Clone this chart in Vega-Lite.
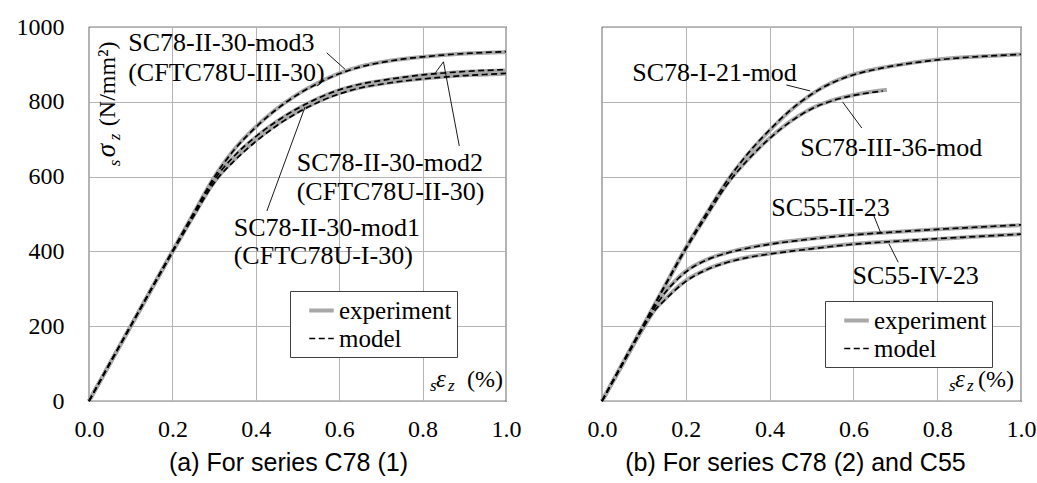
{
  "$schema": "https://vega.github.io/schema/vega-lite/v6.json",
  "padding": {"left": 15, "top": 14, "right": 0, "bottom": 0},
  "spacing": 64,
  "datasets": {
    "curves": [
      {"panel":"a","specimen":"mod3","type":"experiment","x":0,"y":0},
      {"panel":"a","specimen":"mod3","type":"experiment","x":0.05,"y":100},
      {"panel":"a","specimen":"mod3","type":"experiment","x":0.1,"y":200},
      {"panel":"a","specimen":"mod3","type":"experiment","x":0.15,"y":300},
      {"panel":"a","specimen":"mod3","type":"experiment","x":0.2,"y":400},
      {"panel":"a","specimen":"mod3","type":"experiment","x":0.25,"y":500},
      {"panel":"a","specimen":"mod3","type":"experiment","x":0.3,"y":598},
      {"panel":"a","specimen":"mod3","type":"experiment","x":0.35,"y":675},
      {"panel":"a","specimen":"mod3","type":"experiment","x":0.4,"y":733},
      {"panel":"a","specimen":"mod3","type":"experiment","x":0.45,"y":781},
      {"panel":"a","specimen":"mod3","type":"experiment","x":0.5,"y":820},
      {"panel":"a","specimen":"mod3","type":"experiment","x":0.55,"y":851},
      {"panel":"a","specimen":"mod3","type":"experiment","x":0.6,"y":876},
      {"panel":"a","specimen":"mod3","type":"experiment","x":0.65,"y":894},
      {"panel":"a","specimen":"mod3","type":"experiment","x":0.7,"y":906},
      {"panel":"a","specimen":"mod3","type":"experiment","x":0.75,"y":914},
      {"panel":"a","specimen":"mod3","type":"experiment","x":0.8,"y":920},
      {"panel":"a","specimen":"mod3","type":"experiment","x":0.85,"y":925},
      {"panel":"a","specimen":"mod3","type":"experiment","x":0.9,"y":929},
      {"panel":"a","specimen":"mod3","type":"experiment","x":0.95,"y":931},
      {"panel":"a","specimen":"mod3","type":"experiment","x":1.0,"y":933},
      {"panel":"a","specimen":"mod2","type":"experiment","x":0,"y":0},
      {"panel":"a","specimen":"mod2","type":"experiment","x":0.05,"y":100},
      {"panel":"a","specimen":"mod2","type":"experiment","x":0.1,"y":200},
      {"panel":"a","specimen":"mod2","type":"experiment","x":0.15,"y":300},
      {"panel":"a","specimen":"mod2","type":"experiment","x":0.2,"y":400},
      {"panel":"a","specimen":"mod2","type":"experiment","x":0.25,"y":497},
      {"panel":"a","specimen":"mod2","type":"experiment","x":0.3,"y":590},
      {"panel":"a","specimen":"mod2","type":"experiment","x":0.35,"y":655},
      {"panel":"a","specimen":"mod2","type":"experiment","x":0.4,"y":705},
      {"panel":"a","specimen":"mod2","type":"experiment","x":0.45,"y":747},
      {"panel":"a","specimen":"mod2","type":"experiment","x":0.5,"y":781},
      {"panel":"a","specimen":"mod2","type":"experiment","x":0.55,"y":809},
      {"panel":"a","specimen":"mod2","type":"experiment","x":0.6,"y":831},
      {"panel":"a","specimen":"mod2","type":"experiment","x":0.65,"y":846},
      {"panel":"a","specimen":"mod2","type":"experiment","x":0.7,"y":856},
      {"panel":"a","specimen":"mod2","type":"experiment","x":0.75,"y":864},
      {"panel":"a","specimen":"mod2","type":"experiment","x":0.8,"y":871},
      {"panel":"a","specimen":"mod2","type":"experiment","x":0.85,"y":876},
      {"panel":"a","specimen":"mod2","type":"experiment","x":0.9,"y":880},
      {"panel":"a","specimen":"mod2","type":"experiment","x":0.95,"y":882},
      {"panel":"a","specimen":"mod2","type":"experiment","x":1.0,"y":884},
      {"panel":"a","specimen":"mod1","type":"experiment","x":0,"y":0},
      {"panel":"a","specimen":"mod1","type":"experiment","x":0.05,"y":100},
      {"panel":"a","specimen":"mod1","type":"experiment","x":0.1,"y":200},
      {"panel":"a","specimen":"mod1","type":"experiment","x":0.15,"y":299},
      {"panel":"a","specimen":"mod1","type":"experiment","x":0.2,"y":398},
      {"panel":"a","specimen":"mod1","type":"experiment","x":0.25,"y":494},
      {"panel":"a","specimen":"mod1","type":"experiment","x":0.3,"y":585},
      {"panel":"a","specimen":"mod1","type":"experiment","x":0.35,"y":647},
      {"panel":"a","specimen":"mod1","type":"experiment","x":0.4,"y":697},
      {"panel":"a","specimen":"mod1","type":"experiment","x":0.45,"y":739},
      {"panel":"a","specimen":"mod1","type":"experiment","x":0.5,"y":773},
      {"panel":"a","specimen":"mod1","type":"experiment","x":0.55,"y":801},
      {"panel":"a","specimen":"mod1","type":"experiment","x":0.6,"y":823},
      {"panel":"a","specimen":"mod1","type":"experiment","x":0.65,"y":838},
      {"panel":"a","specimen":"mod1","type":"experiment","x":0.7,"y":848},
      {"panel":"a","specimen":"mod1","type":"experiment","x":0.75,"y":856},
      {"panel":"a","specimen":"mod1","type":"experiment","x":0.8,"y":862},
      {"panel":"a","specimen":"mod1","type":"experiment","x":0.85,"y":867},
      {"panel":"a","specimen":"mod1","type":"experiment","x":0.9,"y":871},
      {"panel":"a","specimen":"mod1","type":"experiment","x":0.95,"y":873},
      {"panel":"a","specimen":"mod1","type":"experiment","x":1.0,"y":875},
      {"panel":"a","specimen":"mod3","type":"model","x":0,"y":0},
      {"panel":"a","specimen":"mod3","type":"model","x":0.05,"y":101},
      {"panel":"a","specimen":"mod3","type":"model","x":0.1,"y":201},
      {"panel":"a","specimen":"mod3","type":"model","x":0.15,"y":301},
      {"panel":"a","specimen":"mod3","type":"model","x":0.2,"y":401},
      {"panel":"a","specimen":"mod3","type":"model","x":0.25,"y":501},
      {"panel":"a","specimen":"mod3","type":"model","x":0.3,"y":598},
      {"panel":"a","specimen":"mod3","type":"model","x":0.35,"y":674},
      {"panel":"a","specimen":"mod3","type":"model","x":0.4,"y":732},
      {"panel":"a","specimen":"mod3","type":"model","x":0.45,"y":780},
      {"panel":"a","specimen":"mod3","type":"model","x":0.5,"y":819},
      {"panel":"a","specimen":"mod3","type":"model","x":0.55,"y":850},
      {"panel":"a","specimen":"mod3","type":"model","x":0.6,"y":875},
      {"panel":"a","specimen":"mod3","type":"model","x":0.65,"y":893},
      {"panel":"a","specimen":"mod3","type":"model","x":0.7,"y":905},
      {"panel":"a","specimen":"mod3","type":"model","x":0.75,"y":914},
      {"panel":"a","specimen":"mod3","type":"model","x":0.8,"y":920},
      {"panel":"a","specimen":"mod3","type":"model","x":0.85,"y":925},
      {"panel":"a","specimen":"mod3","type":"model","x":0.9,"y":929},
      {"panel":"a","specimen":"mod3","type":"model","x":0.95,"y":932},
      {"panel":"a","specimen":"mod3","type":"model","x":1.0,"y":934},
      {"panel":"a","specimen":"mod2","type":"model","x":0,"y":0},
      {"panel":"a","specimen":"mod2","type":"model","x":0.05,"y":101},
      {"panel":"a","specimen":"mod2","type":"model","x":0.1,"y":201},
      {"panel":"a","specimen":"mod2","type":"model","x":0.15,"y":301},
      {"panel":"a","specimen":"mod2","type":"model","x":0.2,"y":400},
      {"panel":"a","specimen":"mod2","type":"model","x":0.25,"y":498},
      {"panel":"a","specimen":"mod2","type":"model","x":0.3,"y":591},
      {"panel":"a","specimen":"mod2","type":"model","x":0.35,"y":657},
      {"panel":"a","specimen":"mod2","type":"model","x":0.4,"y":707},
      {"panel":"a","specimen":"mod2","type":"model","x":0.45,"y":748},
      {"panel":"a","specimen":"mod2","type":"model","x":0.5,"y":782},
      {"panel":"a","specimen":"mod2","type":"model","x":0.55,"y":810},
      {"panel":"a","specimen":"mod2","type":"model","x":0.6,"y":832},
      {"panel":"a","specimen":"mod2","type":"model","x":0.65,"y":847},
      {"panel":"a","specimen":"mod2","type":"model","x":0.7,"y":857},
      {"panel":"a","specimen":"mod2","type":"model","x":0.75,"y":865},
      {"panel":"a","specimen":"mod2","type":"model","x":0.8,"y":872},
      {"panel":"a","specimen":"mod2","type":"model","x":0.85,"y":877},
      {"panel":"a","specimen":"mod2","type":"model","x":0.9,"y":881},
      {"panel":"a","specimen":"mod2","type":"model","x":0.95,"y":884},
      {"panel":"a","specimen":"mod2","type":"model","x":1.0,"y":886},
      {"panel":"a","specimen":"mod1","type":"model","x":0,"y":0},
      {"panel":"a","specimen":"mod1","type":"model","x":0.05,"y":100},
      {"panel":"a","specimen":"mod1","type":"model","x":0.1,"y":200},
      {"panel":"a","specimen":"mod1","type":"model","x":0.15,"y":299},
      {"panel":"a","specimen":"mod1","type":"model","x":0.2,"y":397},
      {"panel":"a","specimen":"mod1","type":"model","x":0.25,"y":492},
      {"panel":"a","specimen":"mod1","type":"model","x":0.3,"y":583},
      {"panel":"a","specimen":"mod1","type":"model","x":0.35,"y":644},
      {"panel":"a","specimen":"mod1","type":"model","x":0.4,"y":694},
      {"panel":"a","specimen":"mod1","type":"model","x":0.45,"y":736},
      {"panel":"a","specimen":"mod1","type":"model","x":0.5,"y":771},
      {"panel":"a","specimen":"mod1","type":"model","x":0.55,"y":799},
      {"panel":"a","specimen":"mod1","type":"model","x":0.6,"y":821},
      {"panel":"a","specimen":"mod1","type":"model","x":0.65,"y":837},
      {"panel":"a","specimen":"mod1","type":"model","x":0.7,"y":847},
      {"panel":"a","specimen":"mod1","type":"model","x":0.75,"y":855},
      {"panel":"a","specimen":"mod1","type":"model","x":0.8,"y":861},
      {"panel":"a","specimen":"mod1","type":"model","x":0.85,"y":866},
      {"panel":"a","specimen":"mod1","type":"model","x":0.9,"y":870},
      {"panel":"a","specimen":"mod1","type":"model","x":0.95,"y":873},
      {"panel":"a","specimen":"mod1","type":"model","x":1.0,"y":876},

      {"panel":"b","specimen":"I21","type":"experiment","x":0,"y":0},
      {"panel":"b","specimen":"I21","type":"experiment","x":0.05,"y":102},
      {"panel":"b","specimen":"I21","type":"experiment","x":0.1,"y":205},
      {"panel":"b","specimen":"I21","type":"experiment","x":0.15,"y":308},
      {"panel":"b","specimen":"I21","type":"experiment","x":0.2,"y":410},
      {"panel":"b","specimen":"I21","type":"experiment","x":0.25,"y":502},
      {"panel":"b","specimen":"I21","type":"experiment","x":0.3,"y":590},
      {"panel":"b","specimen":"I21","type":"experiment","x":0.35,"y":662},
      {"panel":"b","specimen":"I21","type":"experiment","x":0.4,"y":723},
      {"panel":"b","specimen":"I21","type":"experiment","x":0.45,"y":777},
      {"panel":"b","specimen":"I21","type":"experiment","x":0.5,"y":820},
      {"panel":"b","specimen":"I21","type":"experiment","x":0.55,"y":852},
      {"panel":"b","specimen":"I21","type":"experiment","x":0.6,"y":873},
      {"panel":"b","specimen":"I21","type":"experiment","x":0.65,"y":887},
      {"panel":"b","specimen":"I21","type":"experiment","x":0.7,"y":897},
      {"panel":"b","specimen":"I21","type":"experiment","x":0.75,"y":906},
      {"panel":"b","specimen":"I21","type":"experiment","x":0.8,"y":913},
      {"panel":"b","specimen":"I21","type":"experiment","x":0.85,"y":918},
      {"panel":"b","specimen":"I21","type":"experiment","x":0.9,"y":921},
      {"panel":"b","specimen":"I21","type":"experiment","x":0.95,"y":924},
      {"panel":"b","specimen":"I21","type":"experiment","x":1.0,"y":927},
      {"panel":"b","specimen":"III36","type":"experiment","x":0,"y":0},
      {"panel":"b","specimen":"III36","type":"experiment","x":0.05,"y":102},
      {"panel":"b","specimen":"III36","type":"experiment","x":0.1,"y":204},
      {"panel":"b","specimen":"III36","type":"experiment","x":0.15,"y":306},
      {"panel":"b","specimen":"III36","type":"experiment","x":0.2,"y":407},
      {"panel":"b","specimen":"III36","type":"experiment","x":0.25,"y":497},
      {"panel":"b","specimen":"III36","type":"experiment","x":0.3,"y":583},
      {"panel":"b","specimen":"III36","type":"experiment","x":0.35,"y":648},
      {"panel":"b","specimen":"III36","type":"experiment","x":0.4,"y":703},
      {"panel":"b","specimen":"III36","type":"experiment","x":0.45,"y":748},
      {"panel":"b","specimen":"III36","type":"experiment","x":0.5,"y":782},
      {"panel":"b","specimen":"III36","type":"experiment","x":0.55,"y":804},
      {"panel":"b","specimen":"III36","type":"experiment","x":0.6,"y":818},
      {"panel":"b","specimen":"III36","type":"experiment","x":0.65,"y":828},
      {"panel":"b","specimen":"III36","type":"experiment","x":0.68,"y":832},
      {"panel":"b","specimen":"II23","type":"experiment","x":0,"y":0},
      {"panel":"b","specimen":"II23","type":"experiment","x":0.05,"y":100},
      {"panel":"b","specimen":"II23","type":"experiment","x":0.1,"y":200},
      {"panel":"b","specimen":"II23","type":"experiment","x":0.125,"y":248},
      {"panel":"b","specimen":"II23","type":"experiment","x":0.15,"y":290},
      {"panel":"b","specimen":"II23","type":"experiment","x":0.175,"y":322},
      {"panel":"b","specimen":"II23","type":"experiment","x":0.2,"y":347},
      {"panel":"b","specimen":"II23","type":"experiment","x":0.25,"y":378},
      {"panel":"b","specimen":"II23","type":"experiment","x":0.3,"y":397},
      {"panel":"b","specimen":"II23","type":"experiment","x":0.35,"y":410},
      {"panel":"b","specimen":"II23","type":"experiment","x":0.4,"y":420},
      {"panel":"b","specimen":"II23","type":"experiment","x":0.5,"y":434},
      {"panel":"b","specimen":"II23","type":"experiment","x":0.6,"y":445},
      {"panel":"b","specimen":"II23","type":"experiment","x":0.7,"y":452},
      {"panel":"b","specimen":"II23","type":"experiment","x":0.8,"y":459},
      {"panel":"b","specimen":"II23","type":"experiment","x":0.9,"y":465},
      {"panel":"b","specimen":"II23","type":"experiment","x":1.0,"y":470},
      {"panel":"b","specimen":"IV23","type":"experiment","x":0,"y":0},
      {"panel":"b","specimen":"IV23","type":"experiment","x":0.05,"y":100},
      {"panel":"b","specimen":"IV23","type":"experiment","x":0.1,"y":198},
      {"panel":"b","specimen":"IV23","type":"experiment","x":0.125,"y":242},
      {"panel":"b","specimen":"IV23","type":"experiment","x":0.15,"y":272},
      {"panel":"b","specimen":"IV23","type":"experiment","x":0.175,"y":299},
      {"panel":"b","specimen":"IV23","type":"experiment","x":0.2,"y":322},
      {"panel":"b","specimen":"IV23","type":"experiment","x":0.25,"y":352},
      {"panel":"b","specimen":"IV23","type":"experiment","x":0.3,"y":372},
      {"panel":"b","specimen":"IV23","type":"experiment","x":0.35,"y":385},
      {"panel":"b","specimen":"IV23","type":"experiment","x":0.4,"y":394},
      {"panel":"b","specimen":"IV23","type":"experiment","x":0.5,"y":408},
      {"panel":"b","specimen":"IV23","type":"experiment","x":0.6,"y":420},
      {"panel":"b","specimen":"IV23","type":"experiment","x":0.7,"y":427},
      {"panel":"b","specimen":"IV23","type":"experiment","x":0.8,"y":433},
      {"panel":"b","specimen":"IV23","type":"experiment","x":0.9,"y":440},
      {"panel":"b","specimen":"IV23","type":"experiment","x":1.0,"y":446},
      {"panel":"b","specimen":"I21","type":"model","x":0,"y":0},
      {"panel":"b","specimen":"I21","type":"model","x":0.05,"y":103},
      {"panel":"b","specimen":"I21","type":"model","x":0.1,"y":206},
      {"panel":"b","specimen":"I21","type":"model","x":0.15,"y":309},
      {"panel":"b","specimen":"I21","type":"model","x":0.2,"y":410},
      {"panel":"b","specimen":"I21","type":"model","x":0.25,"y":503},
      {"panel":"b","specimen":"I21","type":"model","x":0.3,"y":591},
      {"panel":"b","specimen":"I21","type":"model","x":0.35,"y":664},
      {"panel":"b","specimen":"I21","type":"model","x":0.4,"y":725},
      {"panel":"b","specimen":"I21","type":"model","x":0.45,"y":778},
      {"panel":"b","specimen":"I21","type":"model","x":0.5,"y":820},
      {"panel":"b","specimen":"I21","type":"model","x":0.55,"y":851},
      {"panel":"b","specimen":"I21","type":"model","x":0.6,"y":872},
      {"panel":"b","specimen":"I21","type":"model","x":0.65,"y":886},
      {"panel":"b","specimen":"I21","type":"model","x":0.7,"y":897},
      {"panel":"b","specimen":"I21","type":"model","x":0.75,"y":905},
      {"panel":"b","specimen":"I21","type":"model","x":0.8,"y":912},
      {"panel":"b","specimen":"I21","type":"model","x":0.85,"y":917},
      {"panel":"b","specimen":"I21","type":"model","x":0.9,"y":921},
      {"panel":"b","specimen":"I21","type":"model","x":0.95,"y":924},
      {"panel":"b","specimen":"I21","type":"model","x":1.0,"y":927},
      {"panel":"b","specimen":"III36","type":"model","x":0,"y":0},
      {"panel":"b","specimen":"III36","type":"model","x":0.05,"y":103},
      {"panel":"b","specimen":"III36","type":"model","x":0.1,"y":205},
      {"panel":"b","specimen":"III36","type":"model","x":0.15,"y":307},
      {"panel":"b","specimen":"III36","type":"model","x":0.2,"y":406},
      {"panel":"b","specimen":"III36","type":"model","x":0.25,"y":496},
      {"panel":"b","specimen":"III36","type":"model","x":0.3,"y":581},
      {"panel":"b","specimen":"III36","type":"model","x":0.35,"y":647},
      {"panel":"b","specimen":"III36","type":"model","x":0.4,"y":702},
      {"panel":"b","specimen":"III36","type":"model","x":0.45,"y":747},
      {"panel":"b","specimen":"III36","type":"model","x":0.5,"y":781},
      {"panel":"b","specimen":"III36","type":"model","x":0.55,"y":803},
      {"panel":"b","specimen":"III36","type":"model","x":0.6,"y":817},
      {"panel":"b","specimen":"III36","type":"model","x":0.65,"y":826},
      {"panel":"b","specimen":"III36","type":"model","x":0.67,"y":829},
      {"panel":"b","specimen":"II23","type":"model","x":0,"y":0},
      {"panel":"b","specimen":"II23","type":"model","x":0.05,"y":101},
      {"panel":"b","specimen":"II23","type":"model","x":0.1,"y":201},
      {"panel":"b","specimen":"II23","type":"model","x":0.125,"y":249},
      {"panel":"b","specimen":"II23","type":"model","x":0.15,"y":289},
      {"panel":"b","specimen":"II23","type":"model","x":0.175,"y":320},
      {"panel":"b","specimen":"II23","type":"model","x":0.2,"y":345},
      {"panel":"b","specimen":"II23","type":"model","x":0.25,"y":377},
      {"panel":"b","specimen":"II23","type":"model","x":0.3,"y":396},
      {"panel":"b","specimen":"II23","type":"model","x":0.35,"y":409},
      {"panel":"b","specimen":"II23","type":"model","x":0.4,"y":419},
      {"panel":"b","specimen":"II23","type":"model","x":0.5,"y":433},
      {"panel":"b","specimen":"II23","type":"model","x":0.6,"y":444},
      {"panel":"b","specimen":"II23","type":"model","x":0.7,"y":452},
      {"panel":"b","specimen":"II23","type":"model","x":0.8,"y":459},
      {"panel":"b","specimen":"II23","type":"model","x":0.9,"y":465},
      {"panel":"b","specimen":"II23","type":"model","x":1.0,"y":471},
      {"panel":"b","specimen":"IV23","type":"model","x":0,"y":0},
      {"panel":"b","specimen":"IV23","type":"model","x":0.05,"y":101},
      {"panel":"b","specimen":"IV23","type":"model","x":0.1,"y":199},
      {"panel":"b","specimen":"IV23","type":"model","x":0.125,"y":241},
      {"panel":"b","specimen":"IV23","type":"model","x":0.15,"y":270},
      {"panel":"b","specimen":"IV23","type":"model","x":0.175,"y":297},
      {"panel":"b","specimen":"IV23","type":"model","x":0.2,"y":320},
      {"panel":"b","specimen":"IV23","type":"model","x":0.25,"y":351},
      {"panel":"b","specimen":"IV23","type":"model","x":0.3,"y":371},
      {"panel":"b","specimen":"IV23","type":"model","x":0.35,"y":384},
      {"panel":"b","specimen":"IV23","type":"model","x":0.4,"y":393},
      {"panel":"b","specimen":"IV23","type":"model","x":0.5,"y":407},
      {"panel":"b","specimen":"IV23","type":"model","x":0.6,"y":419},
      {"panel":"b","specimen":"IV23","type":"model","x":0.7,"y":427},
      {"panel":"b","specimen":"IV23","type":"model","x":0.8,"y":434},
      {"panel":"b","specimen":"IV23","type":"model","x":0.9,"y":440},
      {"panel":"b","specimen":"IV23","type":"model","x":1.0,"y":446}
    ],
    "labels": [
      {"panel":"a","text":"SC78-II-30-mod3","x":0.094,"y":957},
      {"panel":"a","text":"(CFTC78U-III-30)","x":0.094,"y":877},
      {"panel":"a","text":"SC78-II-30-mod2","x":0.498,"y":637},
      {"panel":"a","text":"(CFTC78U-II-30)","x":0.498,"y":560},
      {"panel":"a","text":"SC78-II-30-mod1","x":0.347,"y":463},
      {"panel":"a","text":"(CFTC78U-I-30)","x":0.347,"y":388},
      {"panel":"b","text":"SC78-I-21-mod","x":0.072,"y":876},
      {"panel":"b","text":"SC78-III-36-mod","x":0.473,"y":676},
      {"panel":"b","text":"SC55-II-23","x":0.404,"y":517},
      {"panel":"b","text":"SC55-IV-23","x":0.598,"y":335}
    ],
    "leaders": [
      {"panel":"a","id":"a1","order":1,"x":0.570,"y":931},
      {"panel":"a","id":"a1","order":2,"x":0.614,"y":887},
      {"panel":"a","id":"a2","order":1,"x":0.831,"y":878},
      {"panel":"a","id":"a2","order":2,"x":0.850,"y":907},
      {"panel":"a","id":"a2","order":3,"x":0.888,"y":682},
      {"panel":"a","id":"a3","order":1,"x":0.4265,"y":508},
      {"panel":"a","id":"a3","order":2,"x":0.518,"y":786},
      {"panel":"b","id":"b1","order":1,"x":0.440,"y":845},
      {"panel":"b","id":"b1","order":2,"x":0.497,"y":829},
      {"panel":"b","id":"b2","order":1,"x":0.574,"y":800},
      {"panel":"b","id":"b2","order":2,"x":0.620,"y":730},
      {"panel":"b","id":"b3","order":1,"x":0.649,"y":495},
      {"panel":"b","id":"b3","order":2,"x":0.665,"y":450},
      {"panel":"b","id":"b4","order":1,"x":0.685,"y":420},
      {"panel":"b","id":"b4","order":2,"x":0.707,"y":371}
    ],
    "axislabels": [
      {"panel":"a","role":"ytitle","x":0.063,"y":628},
      {"panel":"a","role":"xtitle","x":0.818,"y":37},
      {"panel":"b","role":"xtitle","x":0.828,"y":37}
    ]
  },
  "hconcat": [
    {
      "width": 417,
      "height": 374,
      "encoding": {
        "x": {"field":"x","type":"quantitative","scale":{"domain":[0,1],"nice":false,"zero":false},
              "axis":{"values":[0,0.2,0.4,0.6,0.8,1],"format":".1f","labelFlush":false,"labelPadding":16,"title":"(a) For series C78 (1)","titleX":199,"titleY":69,"titleBaseline":"alphabetic","titleAlign":"center","titleAnchor":null}},
        "y": {"field":"y","type":"quantitative","scale":{"domain":[0,1000],"nice":false},
              "axis":{"values":[0,200,400,600,800,1000],"format":"d","labelFlush":false,"labelPadding":25,"title":null}}
      },
      "layer": [
        {
          "data": {"name":"curves"},
          "transform": [{"filter":"datum.panel == 'a' && datum.type == 'experiment'"}],
          "mark": {"type":"line","interpolate":"monotone","strokeCap":"butt","strokeJoin":"round"},
          "encoding": {
            "detail": {"field":"specimen"},
            "color": {"field":"type","type":"nominal","scale":{"domain":["experiment","model"],"range":["#a8a8a8","#000000"]},"legend":{"title":null,"orient":"none","legendX":201,"legendY":264}},
            "strokeDash": {"field":"type","type":"nominal","scale":{"domain":["experiment","model"],"range":[[1,0],[6,3.5]]},"legend":{"title":null,"orient":"none","legendX":201,"legendY":264}},
            "strokeWidth": {"field":"type","type":"nominal","scale":{"domain":["experiment","model"],"range":[4,1.7]},"legend":{"title":null,"orient":"none","legendX":201,"legendY":264}}
          }
        },
        {
          "data": {"name":"curves"},
          "transform": [{"filter":"datum.panel == 'a' && datum.type == 'model'"}],
          "mark": {"type":"line","interpolate":"monotone","strokeCap":"butt","strokeJoin":"round"},
          "encoding": {
            "detail": {"field":"specimen"},
            "color": {"field":"type","type":"nominal","scale":{"domain":["experiment","model"],"range":["#a8a8a8","#000000"]},"legend":{"title":null,"orient":"none","legendX":201,"legendY":264}},
            "strokeDash": {"field":"type","type":"nominal","scale":{"domain":["experiment","model"],"range":[[1,0],[6,3.5]]},"legend":{"title":null,"orient":"none","legendX":201,"legendY":264}},
            "strokeWidth": {"field":"type","type":"nominal","scale":{"domain":["experiment","model"],"range":[4,1.7]},"legend":{"title":null,"orient":"none","legendX":201,"legendY":264}}
          }
        },
        {
          "data": {"name":"leaders"},
          "transform": [{"filter":"datum.panel == 'a'"}],
          "mark": {"type":"line","color":"#000","strokeWidth":0.9},
          "encoding": {"detail":{"field":"id"},"order":{"field":"order","type":"quantitative"}}
        },
        {
          "data": {"name":"labels"},
          "transform": [{"filter":"datum.panel == 'a'"}],
          "mark": {"type":"text","align":"left","baseline":"middle","font":"Liberation Serif","fontSize":26,"color":"#000"},
          "encoding": {"text":{"field":"text"}}
        },
        {
          "data": {"name":"axislabels"},
          "transform": [{"filter":"datum.panel == 'a' && datum.role == 'ytitle'"}],
          "mark": {"type":"text","text":"s","angle":270,"align":"left","baseline":"alphabetic","font":"Liberation Serif","fontStyle":"italic","fontSize":17,"dx":0,"dy":5,"color":"#000"}
        },
        {
          "data": {"name":"axislabels"},
          "transform": [{"filter":"datum.panel == 'a' && datum.role == 'ytitle'"}],
          "mark": {"type":"text","text":"σ","angle":270,"align":"left","baseline":"alphabetic","font":"Liberation Serif","fontStyle":"italic","fontSize":27,"dx":9,"dy":0,"color":"#000"}
        },
        {
          "data": {"name":"axislabels"},
          "transform": [{"filter":"datum.panel == 'a' && datum.role == 'ytitle'"}],
          "mark": {"type":"text","text":"z","angle":270,"align":"left","baseline":"alphabetic","font":"Liberation Serif","fontStyle":"italic","fontSize":17,"dx":26,"dy":5,"color":"#000"}
        },
        {
          "data": {"name":"axislabels"},
          "transform": [{"filter":"datum.panel == 'a' && datum.role == 'ytitle'"}],
          "mark": {"type":"text","text":"(N/mm²)","angle":270,"align":"left","baseline":"alphabetic","font":"Liberation Serif","fontSize":24,"dx":40,"dy":0,"color":"#000"}
        },
        {
          "data": {"name":"axislabels"},
          "transform": [{"filter":"datum.panel == 'a' && datum.role == 'xtitle'"}],
          "mark": {"type":"text","text":"s","align":"left","baseline":"alphabetic","font":"Liberation Serif","fontStyle":"italic","fontSize":17,"dx":0,"dy":4,"color":"#000"}
        },
        {
          "data": {"name":"axislabels"},
          "transform": [{"filter":"datum.panel == 'a' && datum.role == 'xtitle'"}],
          "mark": {"type":"text","text":"ε","align":"left","baseline":"alphabetic","font":"Liberation Serif","fontStyle":"italic","fontSize":25,"dx":6,"dy":0,"color":"#000"}
        },
        {
          "data": {"name":"axislabels"},
          "transform": [{"filter":"datum.panel == 'a' && datum.role == 'xtitle'"}],
          "mark": {"type":"text","text":"z","align":"left","baseline":"alphabetic","font":"Liberation Serif","fontStyle":"italic","fontSize":17,"dx":18,"dy":4,"color":"#000"}
        },
        {
          "data": {"name":"axislabels"},
          "transform": [{"filter":"datum.panel == 'a' && datum.role == 'xtitle'"}],
          "mark": {"type":"text","text":"(%)","align":"left","baseline":"alphabetic","font":"Liberation Serif","fontSize":24,"dx":37,"dy":0,"color":"#000"}
        }
      ]
    },
    {
      "width": 419,
      "height": 374,
      "encoding": {
        "x": {"field":"x","type":"quantitative","scale":{"domain":[0,1],"nice":false,"zero":false},
              "axis":{"values":[0,0.2,0.4,0.6,0.8,1],"format":".1f","labelFlush":false,"labelPadding":16,"title":"(b) For series C78 (2) and C55","titleX":193,"titleY":69,"titleBaseline":"alphabetic","titleAlign":"center","titleAnchor":null}},
        "y": {"field":"y","type":"quantitative","scale":{"domain":[0,1000],"nice":false},
              "axis":{"values":[0,200,400,600,800,1000],"labels":false,"title":null}}
      },
      "layer": [
        {
          "data": {"name":"curves"},
          "transform": [{"filter":"datum.panel == 'b' && datum.type == 'experiment'"}],
          "mark": {"type":"line","interpolate":"monotone","strokeCap":"butt","strokeJoin":"round"},
          "encoding": {
            "detail": {"field":"specimen"},
            "color": {"field":"type","type":"nominal","scale":{"domain":["experiment","model"],"range":["#a8a8a8","#000000"]},"legend":{"title":null,"orient":"none","legendX":223,"legendY":274}},
            "strokeDash": {"field":"type","type":"nominal","scale":{"domain":["experiment","model"],"range":[[1,0],[6,3.5]]},"legend":{"title":null,"orient":"none","legendX":223,"legendY":274}},
            "strokeWidth": {"field":"type","type":"nominal","scale":{"domain":["experiment","model"],"range":[4,1.7]},"legend":{"title":null,"orient":"none","legendX":223,"legendY":274}}
          }
        },
        {
          "data": {"name":"curves"},
          "transform": [{"filter":"datum.panel == 'b' && datum.type == 'model'"}],
          "mark": {"type":"line","interpolate":"monotone","strokeCap":"butt","strokeJoin":"round"},
          "encoding": {
            "detail": {"field":"specimen"},
            "color": {"field":"type","type":"nominal","scale":{"domain":["experiment","model"],"range":["#a8a8a8","#000000"]},"legend":{"title":null,"orient":"none","legendX":223,"legendY":274}},
            "strokeDash": {"field":"type","type":"nominal","scale":{"domain":["experiment","model"],"range":[[1,0],[6,3.5]]},"legend":{"title":null,"orient":"none","legendX":223,"legendY":274}},
            "strokeWidth": {"field":"type","type":"nominal","scale":{"domain":["experiment","model"],"range":[4,1.7]},"legend":{"title":null,"orient":"none","legendX":223,"legendY":274}}
          }
        },
        {
          "data": {"name":"leaders"},
          "transform": [{"filter":"datum.panel == 'b'"}],
          "mark": {"type":"line","color":"#000","strokeWidth":0.9},
          "encoding": {"detail":{"field":"id"},"order":{"field":"order","type":"quantitative"}}
        },
        {
          "data": {"name":"labels"},
          "transform": [{"filter":"datum.panel == 'b'"}],
          "mark": {"type":"text","align":"left","baseline":"middle","font":"Liberation Serif","fontSize":26,"color":"#000"},
          "encoding": {"text":{"field":"text"}}
        },
        {
          "data": {"name":"axislabels"},
          "transform": [{"filter":"datum.panel == 'b' && datum.role == 'xtitle'"}],
          "mark": {"type":"text","text":"s","align":"left","baseline":"alphabetic","font":"Liberation Serif","fontStyle":"italic","fontSize":17,"dx":0,"dy":4,"color":"#000"}
        },
        {
          "data": {"name":"axislabels"},
          "transform": [{"filter":"datum.panel == 'b' && datum.role == 'xtitle'"}],
          "mark": {"type":"text","text":"ε","align":"left","baseline":"alphabetic","font":"Liberation Serif","fontStyle":"italic","fontSize":25,"dx":6,"dy":0,"color":"#000"}
        },
        {
          "data": {"name":"axislabels"},
          "transform": [{"filter":"datum.panel == 'b' && datum.role == 'xtitle'"}],
          "mark": {"type":"text","text":"z","align":"left","baseline":"alphabetic","font":"Liberation Serif","fontStyle":"italic","fontSize":17,"dx":18,"dy":4,"color":"#000"}
        },
        {
          "data": {"name":"axislabels"},
          "transform": [{"filter":"datum.panel == 'b' && datum.role == 'xtitle'"}],
          "mark": {"type":"text","text":"(%)","align":"left","baseline":"alphabetic","font":"Liberation Serif","fontSize":24,"dx":29,"dy":0,"color":"#000"}
        }
      ]
    }
  ],
  "resolve": {
    "scale": {"x":"independent","y":"independent","color":"independent","strokeDash":"independent","strokeWidth":"independent"},
    "legend": {"color":"independent","strokeDash":"independent","strokeWidth":"independent"}
  },
  "config": {
    "background": "#ffffff",
    "view": {"stroke": "#000000", "strokeWidth": 1.2},
    "axis": {
      "grid": true, "gridColor": "#b4b4b4", "gridWidth": 1,
      "ticks": false, "domain": false,
      "labelFont": "Liberation Serif", "labelFontSize": 24, "labelColor": "#000000",
      "titleFont": "Liberation Sans", "titleFontSize": 25, "titleFontWeight": "normal", "titleColor": "#000000"
    },
    "legend": {
      "strokeColor": "#404040", "fillColor": "#ffffff", "padding": 5,
      "labelFont": "Liberation Serif", "labelFontSize": 25, "labelColor": "#000000",
      "symbolType": "stroke", "symbolSize": 600, "rowPadding": 1, "labelOffset": 3, "symbolOffset": 12
    }
  }
}
